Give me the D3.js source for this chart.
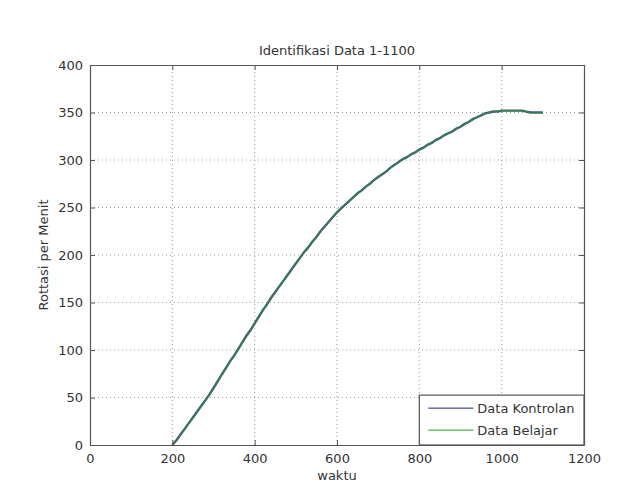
<!DOCTYPE html>
<html>
<head>
<meta charset="utf-8">
<script src="https://cdn.jsdelivr.net/npm/d3@7"></script>
<style>
  body { margin: 0; background: #fff; }
  svg { font-family: "DejaVu Sans", sans-serif; }
</style>
</head>
<body>
<div id="chart"></div>
<script>
// waktu (x) values, every 10 samples
const waktu = [200,210,220,230,240,250,260,270,280,290,300,310,320,330,340,350,360,370,380,390,
  400,410,420,430,440,450,460,470,480,490,500,510,520,530,540,550,560,570,580,590,
  600,610,620,630,640,650,660,670,680,690,700,710,720,730,740,750,760,770,780,790,
  800,810,820,830,840,850,860,870,880,890,900,910,920,930,940,950,960,970,980,990,
  1000,1010,1020,1030,1040,1050,1060,1070,1080,1090,1100];

// rotasi per menit
const dataKontrolan = [0,5,11,17,23,29,35,41,47,53,60,67,74,81,88,94,101,108,115,121,
  128,135,142,148,155,161,167,173,179,185,191,197,203,208,214,219,225,230,235,240,
  245,249,253,257,261,265,268,272,275,279,282,285,288,292,295,298,301,303,306,308,
  311,313,316,318,321,323,326,328,330,333,335,338,340,343,345,347,349,350,351,351,
  352,352,352,352,352,352,351,350,350,350,350];

const dataBelajar = [0,5,11,17,23,29,35,41,47,53,60,67,74,81,88,94,101,108,115,121,
  128,135,142,148,155,161,167,173,179,185,191,197,203,208,214,219,225,230,235,240,
  245,249,253,257,261,265,268,272,275,279,282,285,288,292,295,298,301,303,306,308,
  311,313,316,318,321,323,326,328,330,333,335,338,340,343,345,347,349,350,351,351,
  352,352,352,352,352,352,351,350,350,350,350];

const xTicks = [0, 200, 400, 600, 800, 1000, 1200];
const yTicks = [0, 50, 100, 150, 200, 250, 300, 350, 400];
const legendLabels = ["Data Kontrolan", "Data Belajar"];
const seriesColors = ["#1f1f7a", "#1aa01a"];

const width = 626, height = 497;
const margin = {top: 65, right: 42, bottom: 52, left: 90};

const svg = d3.select("#chart").append("svg")
    .attr("width", width)
    .attr("height", height);

const x = d3.scaleLinear().domain([0, 1200]).range([margin.left, width - margin.right]);
const y = d3.scaleLinear().domain([0, 400]).range([height - margin.bottom, margin.top]);

const axisColor = "#555";
const textColor = "#333";
const fmt = d3.format("d");

// grid
svg.append("g")
    .selectAll("line")
    .data(xTicks.slice(1, -1))
    .join("line")
    .attr("x1", d => x(d)).attr("x2", d => x(d))
    .attr("y1", y(0)).attr("y2", y(400))
    .attr("stroke", "#999")
    .attr("stroke-dasharray", "1,3");

svg.append("g")
    .selectAll("line")
    .data(yTicks.slice(1, -1))
    .join("line")
    .attr("x1", x(0)).attr("x2", x(1200))
    .attr("y1", d => y(d)).attr("y2", d => y(d))
    .attr("stroke", "#999")
    .attr("stroke-dasharray", "1,3");

// lines
const pts = (vals) => waktu.map((w, i) => [w, vals[i]]);
const line = d3.line().x(d => x(d[0])).y(d => y(d[1]));

svg.append("path")
    .datum(pts(dataKontrolan))
    .attr("fill", "none")
    .attr("stroke", seriesColors[0])
    .attr("stroke-width", 2.4)
    .attr("stroke-opacity", 0.8)
    .attr("d", line);

svg.append("path")
    .datum(pts(dataBelajar))
    .attr("fill", "none")
    .attr("stroke", seriesColors[1])
    .attr("stroke-width", 1.1)
    .attr("stroke-opacity", 0.85)
    .attr("d", line);

// axes (inward ticks, box)
const xAxis = svg.append("g")
    .attr("transform", `translate(0,${y(0)})`)
    .call(d3.axisBottom(x).tickValues(xTicks).tickFormat(fmt).tickSizeInner(-5).tickSizeOuter(0).tickPadding(9));
const xAxisTop = svg.append("g")
    .attr("transform", `translate(0,${y(400)})`)
    .call(d3.axisTop(x).tickValues(xTicks).tickSizeInner(-5).tickSizeOuter(0).tickFormat(""));
const yAxis = svg.append("g")
    .attr("transform", `translate(${x(0)},0)`)
    .call(d3.axisLeft(y).tickValues(yTicks).tickFormat(fmt).tickSizeInner(-5).tickSizeOuter(0).tickPadding(7));
const yAxisRight = svg.append("g")
    .attr("transform", `translate(${x(1200)},0)`)
    .call(d3.axisRight(y).tickValues(yTicks).tickSizeInner(-5).tickSizeOuter(0).tickFormat(""));

[xAxis, xAxisTop, yAxis, yAxisRight].forEach(g => {
    g.select(".domain").attr("stroke", axisColor).attr("stroke-width", 1.2);
    g.selectAll(".tick line").attr("stroke", axisColor);
    g.selectAll("text").attr("fill", textColor).attr("font-size", 13)
        .attr("font-family", "'DejaVu Sans', sans-serif");
});

// title and labels
svg.append("text")
    .attr("x", (x(0) + x(1200)) / 2)
    .attr("y", 55)
    .attr("text-anchor", "middle")
    .attr("font-size", 13)
    .attr("fill", textColor)
    .text("Identifikasi Data 1-1100");

svg.append("text")
    .attr("x", (x(0) + x(1200)) / 2)
    .attr("y", 480)
    .attr("text-anchor", "middle")
    .attr("font-size", 13)
    .attr("fill", textColor)
    .text("waktu");

svg.append("text")
    .attr("transform", `translate(48,${(y(0) + y(400)) / 2}) rotate(-90)`)
    .attr("text-anchor", "middle")
    .attr("font-size", 13)
    .attr("fill", textColor)
    .text("Rottasi per Menit");

// legend
const legend = svg.append("g").attr("transform", `translate(${x(800)},${y(52.5)})`);
legend.append("rect")
    .attr("width", x(1200) - x(800))
    .attr("height", y(0) - y(52.5))
    .attr("fill", "#fff")
    .attr("stroke", axisColor)
    .attr("stroke-width", 1.2);

legendLabels.forEach((lab, i) => {
    const ly = 13 + i * 22;
    legend.append("line")
        .attr("x1", 9).attr("x2", 54)
        .attr("y1", ly).attr("y2", ly)
        .attr("stroke", seriesColors[i]);
    legend.append("text")
        .attr("x", 58).attr("y", ly + 4.5)
        .attr("font-size", 13)
        .attr("fill", textColor)
        .text(lab);
});
</script>
</body>
</html>
